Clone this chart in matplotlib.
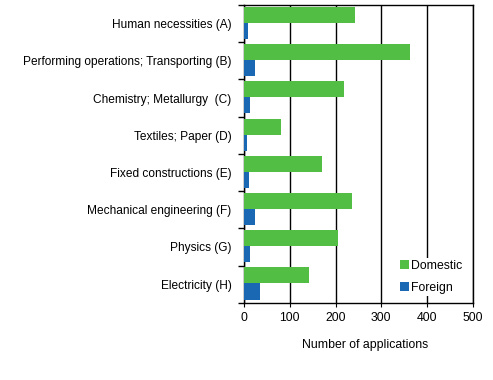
import matplotlib
matplotlib.use("Agg")
import matplotlib.pyplot as plt
import numpy as np

plt.rcParams['font.family'] = ['Liberation Sans', 'DejaVu Sans']

categories = ["Human necessities (A)", "Performing operations; Transporting (B)",
              "Chemistry; Metallurgy  (C)", "Textiles; Paper (D)",
              "Fixed constructions (E)", "Mechanical engineering (F)",
              "Physics (G)", "Electricity (H)"]
domestic = [242, 362, 218, 80, 170, 235, 205, 143]
foreign = [8, 25, 12, 6, 10, 23, 12, 34]

fig = plt.figure(figsize=(4.93, 3.8), dpi=100)
ax = fig.add_axes([0.495, 0.203, 0.464, 0.784])

y = np.arange(len(categories))
h = 0.43
ax.barh(y - h / 2 - 0.02, domestic, height=h, color='#52BE44', label='Domestic', zorder=3)
ax.barh(y + h / 2 - 0.02, foreign, height=h, color='#1A68B4', label='Foreign', zorder=3)

ax.set_xlim(0, 500)
ax.set_ylim(len(categories) - 0.5, -0.5)
ax.set_xticks([0, 100, 200, 300, 400, 500])
ax.set_yticks(y)
ax.set_yticklabels(categories, fontsize=8.6)
ax.tick_params(axis='y', length=0, pad=9)
ax.set_yticks(np.arange(len(categories) + 1) - 0.5, minor=True)
ax.tick_params(axis='y', which='minor', length=4, width=1)
ax.tick_params(axis='x', labelsize=8.8, length=3)
ax.grid(axis='x', color='black', linewidth=1, zorder=0)
for s in ax.spines.values():
    s.set_linewidth(1)

ax.set_xlabel("Number of applications", fontsize=8.8)
ax.xaxis.set_label_coords(0.53, -0.12)

leg = ax.legend(loc='lower right', bbox_to_anchor=(0.99, 0.003), frameon=True, fontsize=8.8,
                handlelength=0.75, handleheight=0.75, handletextpad=0.2, labelspacing=0.85,
                fancybox=False, borderpad=0.15)
leg.get_frame().set_edgecolor('none')
leg.get_frame().set_facecolor('white')
leg.get_frame().set_alpha(1)

fig.savefig("out.png", dpi=100)
